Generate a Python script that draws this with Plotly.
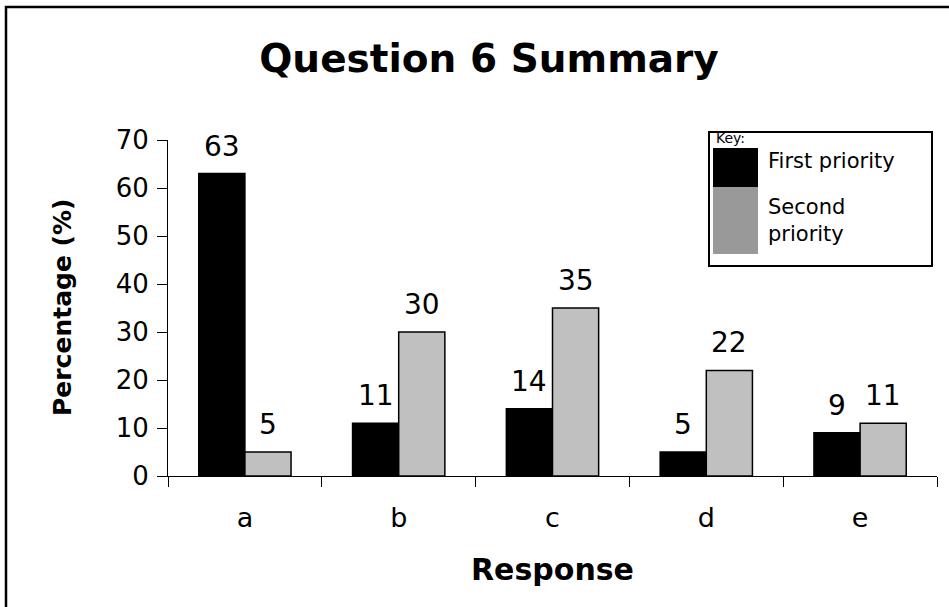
import plotly.graph_objects as go

# Survey results: share of respondents choosing each response
responses = ["a", "b", "c", "d", "e"]
first_priority = [63, 11, 14, 5, 9]
second_priority = [5, 30, 35, 22, 11]
y_ticks = [0, 10, 20, 30, 40, 50, 60, 70]

W, H = 949, 607
M_L, M_R, M_T, M_B = 168, 12, 140, 131
PW, PH = W - M_L - M_R, H - M_T - M_B
FONT = "DejaVu Sans"


def px_x(x):
    """Horizontal page pixel -> paper fraction."""
    return (x - M_L) / PW


def px_y(y):
    """Vertical page pixel (from top) -> paper fraction."""
    return (H - M_B - y) / PH


fig = go.Figure()
fig.add_trace(go.Bar(
    x=responses, y=first_priority, name="First priority",
    marker=dict(color="#000000", line=dict(color="#000000", width=1.5)),
))
fig.add_trace(go.Bar(
    x=responses, y=second_priority, name="Second priority",
    marker=dict(color="#C0C0C0", line=dict(color="#000000", width=1.5)),
))

# value labels above each bar
bar_half = PW / len(responses) * 0.6 / 4
annotations = []
for vals, shift in ((first_priority, -bar_half), (second_priority, bar_half)):
    for cat, v in zip(responses, vals):
        annotations.append(dict(
            x=cat, y=v, xref="x", yref="y", text=str(v), showarrow=False,
            xshift=shift, yshift=9, yanchor="bottom",
            font=dict(family=FONT, size=28, color="#000000"),
        ))

# axis titles
annotations.append(dict(
    x=px_x(62), y=0.5, xref="paper", yref="paper", text="<b>Percentage (%)</b>",
    textangle=-90, showarrow=False, xanchor="center", yanchor="middle",
    font=dict(family=FONT, size=25, color="#000000"),
))
annotations.append(dict(
    x=0.5, y=px_y(569), xref="paper", yref="paper", text="<b>Response</b>",
    showarrow=False, xanchor="center", yanchor="middle",
    font=dict(family=FONT, size=30, color="#000000"),
))

# key box
annotations.append(dict(
    x=px_x(714), y=px_y(138), xref="paper", yref="paper", text="Key:",
    showarrow=False, xanchor="left", yanchor="middle",
    font=dict(family=FONT, size=14, color="#000000"),
))
annotations.append(dict(
    x=px_x(766), y=px_y(161), xref="paper", yref="paper", text="First priority",
    showarrow=False, xanchor="left", yanchor="middle",
    font=dict(family=FONT, size=21, color="#000000"),
))
annotations.append(dict(
    x=px_x(766), y=px_y(220), xref="paper", yref="paper", text="Second<br>priority",
    showarrow=False, xanchor="left", yanchor="middle", align="left",
    font=dict(family=FONT, size=21, color="#000000"),
))

shapes = [
    # outer chart border
    dict(type="rect", xref="paper", yref="paper",
         x0=px_x(6), x1=px_x(960), y0=px_y(620), y1=px_y(7),
         line=dict(color="#000000", width=2.5), fillcolor="rgba(0,0,0,0)"),
    # key frame
    dict(type="rect", xref="paper", yref="paper",
         x0=px_x(709), x1=px_x(932), y0=px_y(266), y1=px_y(132),
         line=dict(color="#000000", width=2), fillcolor="#FFFFFF", layer="below"),
    dict(type="rect", xref="paper", yref="paper",
         x0=px_x(713), x1=px_x(758), y0=px_y(187), y1=px_y(148),
         line=dict(width=0), fillcolor="#000000"),
    dict(type="rect", xref="paper", yref="paper",
         x0=px_x(713), x1=px_x(758), y0=px_y(254), y1=px_y(187),
         line=dict(width=0), fillcolor="#999999"),
]

fig.update_layout(
    width=W, height=H,
    margin=dict(l=M_L, r=M_R, t=M_T, b=M_B, pad=0),
    paper_bgcolor="#FFFFFF", plot_bgcolor="#FFFFFF",
    barmode="group", bargap=0.4, bargroupgap=0,
    showlegend=False,
    title=dict(
        text="<b>Question 6 Summary</b>", x=489 / W, y=1 - 58 / H,
        xref="container", yref="container", xanchor="center", yanchor="middle",
        font=dict(family=FONT, size=39, color="#000000"),
    ),
    font=dict(family=FONT, color="#000000"),
    xaxis=dict(
        type="category", tickson="boundaries", ticks="outside", ticklen=10,
        tickcolor="#000000", showline=True, linecolor="#000000", linewidth=1,
        showgrid=False, tickfont=dict(family=FONT, size=27, color="#000000"),
        ticklabelstandoff=18,
    ),
    yaxis=dict(
        range=[0, 70], tickvals=y_ticks, ticks="outside", ticklen=10,
        tickcolor="#000000", showline=True, linecolor="#000000", linewidth=1,
        showgrid=False, zeroline=False,
        tickfont=dict(family=FONT, size=26, color="#000000"),
        ticklabelstandoff=3,
    ),
    annotations=annotations,
    shapes=shapes,
)

fig.write_html("out.html")
